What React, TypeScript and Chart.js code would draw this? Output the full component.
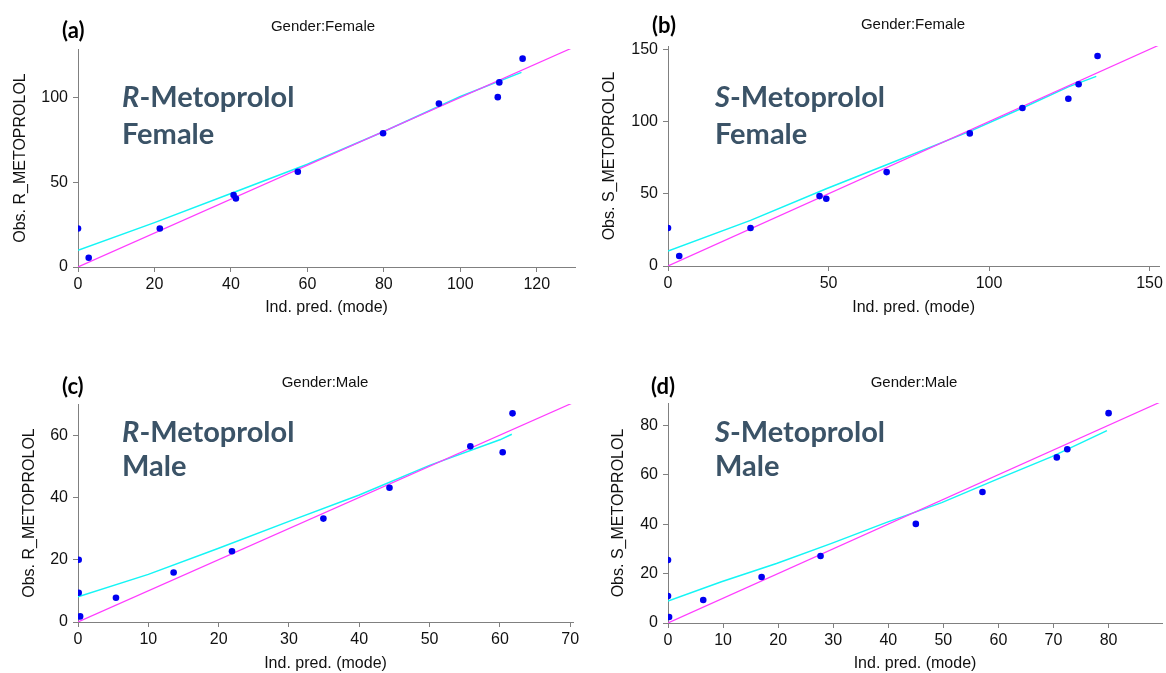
import React, { useEffect, useRef } from 'react';
import { Chart, registerables } from 'chart.js';
Chart.register(...registerables);

// ---------- Panel (a): R-Metoprolol, Female ----------
const aObsX = [0, 2.8, 21.4, 40.7, 41.3, 57.5, 79.8, 94.4, 109.8, 110.2, 116.3];
const aObsY = [22.7, 5.5, 22.7, 42.4, 40.4, 56.2, 78.9, 96.4, 100.2, 108.9, 122.9];
const aSmoothX = [0, 20, 40, 60, 80, 100, 116];
const aSmoothY = [9.9, 26.2, 43.4, 60.6, 79.9, 100.6, 114.8];
const aIdentity = [0, 130];
const aXTicks = [0, 20, 40, 60, 80, 100, 120];
const aYTicks = [0, 50, 100];

// ---------- Panel (b): S-Metoprolol, Female ----------
const bObsX = [0, 3.5, 25.7, 47.2, 49.3, 68.1, 94, 110.4, 124.7, 127.9, 133.8];
const bObsY = [26.3, 6.9, 26.3, 48.4, 46.6, 65, 91.8, 109.4, 115.8, 125.8, 145.4];
const bSmoothX = [0, 25.7, 49.3, 68.1, 94, 110.4, 124.7, 133.4];
const bSmoothY = [10.4, 31.6, 53.5, 70.1, 93.2, 109.4, 124, 131.3];
const bIdentity = [0, 153];
const bXTicks = [0, 50, 100, 150];
const bYTicks = [0, 50, 100, 150];

// ---------- Panel (c): R-Metoprolol, Male ----------
const cObsX = [0.1, 0.1, 0.3, 5.4, 13.6, 21.9, 34.9, 44.3, 55.8, 60.4, 61.8];
const cObsY = [20.0, 9.4, 1.8, 7.8, 15.9, 22.7, 33.2, 43.1, 56.4, 54.5, 67.0];
const cSmoothX = [0, 10, 20, 30, 40, 50, 60, 61.7];
const cSmoothY = [8.1, 15.3, 23.7, 32.3, 40.8, 50.3, 58.5, 60.3];
const cIdentity = [0, 70.4];
const cXTicks = [0, 10, 20, 30, 40, 50, 60, 70];
const cYTicks = [0, 20, 40, 60];

// ---------- Panel (d): S-Metoprolol, Male ----------
const dObsX = [0, 0, 0.2, 6.4, 17, 27.7, 45, 57.1, 70.6, 72.5, 80];
const dObsY = [25.5, 10.9, 2.4, 9.3, 18.6, 27.1, 40.1, 53, 67, 70.3, 84.9];
const dSmoothX = [0, 9.7, 19.7, 29.7, 39.7, 49.7, 59.7, 69.7, 79.7];
const dSmoothY = [8.9, 16.7, 24.1, 32.2, 40.7, 48.7, 58.1, 67.3, 77.8];
const dIdentity = [0, 89.7];
const dXTicks = [0, 10, 20, 30, 40, 50, 60, 70, 80];
const dYTicks = [0, 20, 40, 60, 80];

const panelLetters = ['(a)', '(b)', '(c)', '(d)'];
const panelTitles = ['Gender:Female', 'Gender:Female', 'Gender:Male', 'Gender:Male'];
const yTitles = ['Obs. R_METOPROLOL', 'Obs. S_METOPROLOL', 'Obs. R_METOPROLOL', 'Obs. S_METOPROLOL'];
const xTitle = 'Ind. pred. (mode)';
const enantiomers = ['R', 'S', 'R', 'S'];
const sexes = ['Female', 'Female', 'Male', 'Male'];

const AXIS_FONT = '"Liberation Sans", Arial, sans-serif';
const LABEL_FONT = 'Lato, "Open Sans", sans-serif';
const AXIS_SIZE = 16;
const HALF_LINE = (AXIS_SIZE * 1.2) / 2;

const panelTextPlugin = {
  id: 'panelText',
  afterDraw(chart: any, _args: any, opts: any) {
    const ctx = chart.ctx;
    ctx.save();
    ctx.textBaseline = 'middle';
    ctx.textAlign = 'left';
    ctx.fillStyle = '#000';
    ctx.font = `bold 22px ${LABEL_FONT}`;
    ctx.fillText(opts.letter, opts.letterX, opts.letterY);

    ctx.textAlign = 'center';
    ctx.fillStyle = '#111';
    ctx.font = `15px ${AXIS_FONT}`;
    ctx.fillText(opts.title, opts.titleX, opts.titleY);

    ctx.textBaseline = 'alphabetic';
    ctx.textAlign = 'left';
    ctx.fillStyle = '#3b5367';
    ctx.font = `italic bold 29px ${LABEL_FONT}`;
    ctx.fillText(opts.enantiomer, opts.bigX, opts.bigY1);
    const w = ctx.measureText(opts.enantiomer).width;
    ctx.font = `bold 29px ${LABEL_FONT}`;
    ctx.fillText('-Metoprolol', opts.bigX + w, opts.bigY1);
    ctx.fillText(opts.sex, opts.bigX, opts.bigY2);
    ctx.restore();
  },
};

type PanelSpec = {
  idx: number;
  obsX: number[]; obsY: number[];
  smX: number[]; smY: number[];
  ident: number[];
  xTicks: number[]; yTicks: number[];
  xMax: number; yMax: number;
  w: number; h: number;
  area: { left: number; right: number; top: number; bottom: number };
  yTitleX: number; xTitleY: number;
  titleX: number; titleY: number; letterX: number; letterY: number;
  bigX: number; bigY1: number; bigY2: number;
};

const panels: PanelSpec[] = [
  {
    idx: 0, obsX: aObsX, obsY: aObsY, smX: aSmoothX, smY: aSmoothY, ident: aIdentity,
    xTicks: aXTicks, yTicks: aYTicks, xMax: 130, yMax: 128.6, w: 583, h: 336,
    area: { left: 78, right: 575, top: 49, bottom: 267 }, yTitleX: 20.5, xTitleY: 308,
    titleX: 323, titleY: 27, letterX: 62, letterY: 31, bigX: 122, bigY1: 107, bigY2: 144,
  },
  {
    idx: 1, obsX: bObsX, obsY: bObsY, smX: bSmoothX, smY: bSmoothY, ident: bIdentity,
    xTicks: bXTicks, yTicks: bYTicks, xMax: 153, yMax: 152.3, w: 583, h: 336,
    area: { left: 85, right: 580, top: 46, bottom: 266 }, yTitleX: 27, xTitleY: 308,
    titleX: 330, titleY: 25, letterX: 69, letterY: 26, bigX: 132, bigY1: 107, bigY2: 144,
  },
  {
    idx: 2, obsX: cObsX, obsY: cObsY, smX: cSmoothX, smY: cSmoothY, ident: cIdentity,
    xTicks: cXTicks, yTicks: cYTicks, xMax: 70.4, yMax: 70, w: 583, h: 337,
    area: { left: 78, right: 573, top: 68, bottom: 286 }, yTitleX: 30, xTitleY: 328,
    titleX: 325, titleY: 47, letterX: 62, letterY: 51, bigX: 122, bigY1: 106, bigY2: 140,
  },
  {
    idx: 3, obsX: dObsX, obsY: dObsY, smX: dSmoothX, smY: dSmoothY, ident: dIdentity,
    xTicks: dXTicks, yTicks: dYTicks, xMax: 89.7, yMax: 89, w: 583, h: 337,
    area: { left: 85, right: 580, top: 67, bottom: 287 }, yTitleX: 36, xTitleY: 328,
    titleX: 331, titleY: 47, letterX: 68, letterY: 51, bigX: 132, bigY1: 106, bigY2: 140,
  },
];

function toPoints(xs: number[], ys: number[]) {
  return xs.map((x, i) => ({ x, y: ys[i] }));
}

function Panel({ spec }: { spec: PanelSpec }) {
  const ref = useRef<HTMLCanvasElement | null>(null);
  useEffect(() => {
    if (!ref.current) return;
    const s = spec;
    const axisColor = '#808080';
    const tickFont = { family: AXIS_FONT, size: AXIS_SIZE };
    const chart = new Chart(ref.current, {
      type: 'scatter',
      data: {
        datasets: [
          {
            label: 'Observed',
            data: toPoints(s.obsX, s.obsY),
            pointRadius: 3.3,
            pointBackgroundColor: '#0000f0',
            pointBorderWidth: 0,
            showLine: false,
          },
          {
            label: 'Identity',
            data: toPoints(s.ident, s.ident),
            showLine: true,
            pointRadius: 0,
            borderColor: '#ff3cff',
            borderWidth: 1.2,
          },
          {
            label: 'Smooth',
            data: toPoints(s.smX, s.smY),
            showLine: true,
            pointRadius: 0,
            borderColor: '#14f5f5',
            borderWidth: 1.5,
          },
        ],
      },
      options: {
        responsive: false,
        animation: false,
        devicePixelRatio: 1,
        layout: {
          padding: { left: 0, top: s.area.top, right: s.w - s.area.right, bottom: 0 },
        },
        plugins: {
          legend: { display: false },
          tooltip: { enabled: false },
          panelText: {
            letter: panelLetters[s.idx], letterX: s.letterX, letterY: s.letterY,
            title: panelTitles[s.idx], titleX: s.titleX, titleY: s.titleY,
            enantiomer: enantiomers[s.idx], sex: sexes[s.idx],
            bigX: s.bigX, bigY1: s.bigY1, bigY2: s.bigY2,
          },
        } as any,
        scales: {
          x: {
            type: 'linear',
            min: 0,
            max: s.xMax,
            afterBuildTicks: (scale: any) => { scale.ticks = s.xTicks.map((v) => ({ value: v })); },
            afterFit: (scale: any) => { scale.height = s.h - s.area.bottom; },
            grid: { display: true, drawOnChartArea: false, drawTicks: true, tickLength: 5, color: axisColor },
            border: { display: true, color: axisColor, width: 1 },
            ticks: { color: '#111', font: tickFont, padding: 3, maxRotation: 0, autoSkip: false },
            title: {
              display: true, text: xTitle, color: '#111', font: tickFont,
              padding: { top: 0, bottom: Math.max(0, s.h - s.xTitleY - HALF_LINE) },
            },
          },
          y: {
            type: 'linear',
            min: 0,
            max: s.yMax,
            afterBuildTicks: (scale: any) => { scale.ticks = s.yTicks.map((v) => ({ value: v })); },
            afterFit: (scale: any) => { scale.width = s.area.left; },
            grid: { display: true, drawOnChartArea: false, drawTicks: true, tickLength: 5, color: axisColor },
            border: { display: true, color: axisColor, width: 1 },
            ticks: { color: '#111', font: tickFont, padding: 5, autoSkip: false },
            title: {
              display: true, text: yTitles[s.idx], color: '#111', font: tickFont,
              padding: { top: s.yTitleX - HALF_LINE, bottom: 0 },
            },
          },
        },
      } as any,
      plugins: [panelTextPlugin as any],
    });
    return () => chart.destroy();
  }, [spec]);
  return <canvas ref={ref} width={spec.w} height={spec.h} style={{ display: 'block', width: spec.w, height: spec.h }} />;
}

export default function App() {
  return (
    <div style={{ position: 'fixed', left: 0, top: 0, width: 1166, height: 673, background: '#fff', overflow: 'hidden' }}>
      <div style={{ position: 'absolute', left: 0, top: 0 }}><Panel spec={panels[0]} /></div>
      <div style={{ position: 'absolute', left: 583, top: 0 }}><Panel spec={panels[1]} /></div>
      <div style={{ position: 'absolute', left: 0, top: 336 }}><Panel spec={panels[2]} /></div>
      <div style={{ position: 'absolute', left: 583, top: 336 }}><Panel spec={panels[3]} /></div>
    </div>
  );
}
